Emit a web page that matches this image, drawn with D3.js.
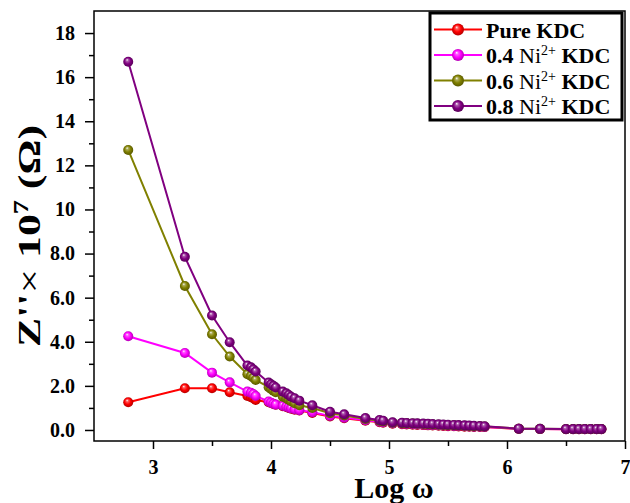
<!DOCTYPE html>
<html>
<head>
<meta charset="utf-8">
<script src="https://cdn.jsdelivr.net/npm/d3@7"></script>
<style>
  html, body { margin: 0; padding: 0; background: #fff; }
  svg { display: block; }
  text { font-family: "Liberation Serif", "Times New Roman", serif; }
</style>
</head>
<body>
<svg id="chart" width="630" height="503"></svg>
<script>
// Log of angular frequency, shared by all four samples
const logOmega = [
  2.79, 3.27, 3.50, 3.65, 3.80, 3.83, 3.85, 3.87, 3.98, 4.00, 4.02, 4.04,
  4.10, 4.13, 4.15, 4.17, 4.20, 4.24, 4.35, 4.50, 4.62, 4.80, 4.92, 4.95, 5.03,
  5.11, 5.15, 5.20, 5.24, 5.29, 5.33, 5.37, 5.42, 5.46, 5.50, 5.55, 5.59, 5.64,
  5.68, 5.72, 5.77, 5.81,
  6.10, 6.28, 6.50, 6.56, 6.61, 6.66, 6.71, 6.76, 6.80
];

// Z'' (x 10^7 ohm) for each sample
const pureKDC = [
  1.26, 1.89, 1.89, 1.71, 1.54, 1.48, 1.44, 1.36, 1.26, 1.22, 1.18, 1.14,
  1.08, 1.04, 1.00, 0.96, 0.92, 0.88, 0.77, 0.61, 0.53, 0.42, 0.35, 0.33, 0.28,
  0.26, 0.25, 0.24, 0.23, 0.22, 0.21, 0.20, 0.19, 0.18, 0.17, 0.17, 0.16, 0.15,
  0.15, 0.14, 0.14, 0.13,
  0.05, 0.04, 0.03, 0.03, 0.03, 0.03, 0.03, 0.03, 0.03
];
const ni04KDC = [
  4.25, 3.49, 2.60, 2.16, 1.74, 1.69, 1.63, 1.54, 1.29, 1.24, 1.19, 1.15,
  1.10, 1.06, 1.02, 0.98, 0.94, 0.90, 0.80, 0.64, 0.56, 0.44, 0.37, 0.35, 0.30,
  0.28, 0.27, 0.26, 0.25, 0.24, 0.23, 0.22, 0.21, 0.20, 0.19, 0.18, 0.18, 0.17,
  0.16, 0.15, 0.15, 0.14,
  0.05, 0.04, 0.03, 0.03, 0.03, 0.03, 0.03, 0.03, 0.03
];
const ni06KDC = [
  12.7, 6.53, 4.34, 3.33, 2.53, 2.45, 2.37, 2.27, 1.94, 1.86, 1.78, 1.71,
  1.51, 1.44, 1.37, 1.30, 1.21, 1.12, 1.00, 0.76, 0.66, 0.50, 0.42, 0.39, 0.33,
  0.31, 0.30, 0.29, 0.28, 0.27, 0.26, 0.25, 0.24, 0.23, 0.22, 0.21, 0.20, 0.19,
  0.18, 0.17, 0.17, 0.16,
  0.06, 0.05, 0.04, 0.04, 0.04, 0.04, 0.04, 0.04, 0.04
];
const ni08KDC = [
  16.7, 7.85, 5.19, 3.98, 2.92, 2.84, 2.75, 2.65, 2.15, 2.07, 2.00, 1.93,
  1.74, 1.66, 1.59, 1.51, 1.44, 1.33, 1.12, 0.83, 0.71, 0.54, 0.45, 0.42, 0.35,
  0.33, 0.32, 0.31, 0.30, 0.29, 0.28, 0.27, 0.26, 0.25, 0.24, 0.23, 0.22, 0.21,
  0.20, 0.19, 0.18, 0.17,
  0.06, 0.05, 0.04, 0.04, 0.04, 0.04, 0.04, 0.04, 0.04
];

const seriesNames = ["Pure KDC", "0.4 Ni2+ KDC", "0.6 Ni2+ KDC", "0.8 Ni2+ KDC"];
const seriesColors = ["#ff0000", "#ff00ff", "#808000", "#800080"];
const seriesValues = [pureKDC, ni04KDC, ni06KDC, ni08KDC];

const xTicks = [3, 4, 5, 6, 7];
const xTickLabels = ["3", "4", "5", "6", "7"];
const yTicks = [0, 2, 4, 6, 8, 10, 12, 14, 16, 18];
const yTickLabels = ["0.0", "2.0", "4.0", "6.0", "8.0", "10", "12", "14", "16", "18"];

const svg = d3.select("#chart");
const plotLeft = 94, plotRight = 625, plotTop = 11, plotBottom = 441;

const x = d3.scaleLinear().domain([2.5, 7]).range([plotLeft, plotRight]);
const y = d3.scaleLinear().domain([-0.5, 19]).range([plotBottom, plotTop]);

// shaded-ball gradients for the markers
const defs = svg.append("defs");
seriesColors.forEach((c, i) => {
  const g = defs.append("radialGradient")
    .attr("id", "ball" + i)
    .attr("cx", "50%").attr("cy", "50%").attr("r", "55%")
    .attr("fx", "38%").attr("fy", "30%");
  g.append("stop").attr("offset", "0%").attr("stop-color", "#ffffff");
  g.append("stop").attr("offset", "22%").attr("stop-color", d3.interpolateRgb(c, "#ffffff")(0.35));
  g.append("stop").attr("offset", "55%").attr("stop-color", c);
  g.append("stop").attr("offset", "100%").attr("stop-color", d3.interpolateRgb(c, "#000000")(0.35));
});

// axes
const yAxis = d3.axisLeft(y)
  .tickValues(yTicks)
  .tickFormat((d, i) => yTickLabels[i])
  .tickSize(9).tickSizeOuter(0).tickPadding(10);
const yMinor = d3.axisLeft(y)
  .tickValues(d3.range(1, 19, 2))
  .tickFormat("").tickSize(5).tickSizeOuter(0);
const xAxis = d3.axisBottom(x)
  .tickValues(xTicks)
  .tickFormat((d, i) => xTickLabels[i])
  .tickSize(8).tickSizeOuter(0).tickPadding(11);
const xMinor = d3.axisBottom(x)
  .tickValues([3.5, 4.5, 5.5, 6.5])
  .tickFormat("").tickSize(5).tickSizeOuter(0);

function styleAxis(g) {
  g.select(".domain").remove();
  g.selectAll("line").attr("stroke", "#000").attr("stroke-width", 1.5);
  g.selectAll("text")
    .attr("fill", "#000")
    .style("font-family", "'Liberation Serif', serif")
    .style("font-weight", "bold")
    .style("font-size", "20px");
}

svg.append("g").attr("transform", `translate(${plotLeft},0)`).call(yAxis).call(styleAxis);
svg.append("g").attr("transform", `translate(${plotLeft},0)`).call(yMinor).call(styleAxis);
svg.append("g").attr("transform", `translate(0,${plotBottom})`).call(xAxis).call(styleAxis);
svg.append("g").attr("transform", `translate(0,${plotBottom})`).call(xMinor).call(styleAxis);

// plot frame
svg.append("rect")
  .attr("x", plotLeft).attr("y", plotTop)
  .attr("width", plotRight - plotLeft).attr("height", plotBottom - plotTop)
  .attr("fill", "none").attr("stroke", "#000").attr("stroke-width", 1.5);

// series lines and markers
const line = d3.line().x(d => x(d[0])).y(d => y(d[1]));
seriesValues.forEach((vals, i) => {
  const pts = logOmega.map((lw, j) => [lw, vals[j]]);
  const g = svg.append("g");
  g.append("path")
    .attr("d", line(pts))
    .attr("fill", "none")
    .attr("stroke", seriesColors[i])
    .attr("stroke-width", 2);
  g.selectAll("circle").data(pts).join("circle")
    .attr("cx", d => x(d[0])).attr("cy", d => y(d[1]))
    .attr("r", 5)
    .attr("fill", `url(#ball${i})`);
});

// axis titles
svg.append("text")
  .attr("x", 394).attr("y", 498)
  .attr("text-anchor", "middle")
  .style("font-weight", "bold").style("font-size", "30px")
  .text("Log ω");

const yt = svg.append("text")
  .attr("transform", "translate(40,236) rotate(-90)")
  .attr("text-anchor", "middle")
  .attr("textLength", 222)
  .attr("lengthAdjust", "spacingAndGlyphs")
  .style("font-weight", "bold").style("font-size", "31px");
yt.append("tspan").text("Z''");
yt.append("tspan").style("font-weight", "normal").text("× ");
yt.append("tspan").text("10");
yt.append("tspan").attr("dy", -12).style("font-size", "20px").text("7");
yt.append("tspan").attr("dy", 12).text(" (Ω)");

// legend
const lg = svg.append("g");
lg.append("rect")
  .attr("x", 430).attr("y", 13).attr("width", 192).attr("height", 107)
  .attr("fill", "#fff").attr("stroke", "#000").attr("stroke-width", 3);
seriesNames.forEach((name, i) => {
  const cy = 29.5 + i * 25.5;
  lg.append("line")
    .attr("x1", 434).attr("x2", 482).attr("y1", cy).attr("y2", cy)
    .attr("stroke", seriesColors[i]).attr("stroke-width", 2);
  lg.append("circle")
    .attr("cx", 458).attr("cy", cy).attr("r", 6)
    .attr("fill", `url(#ball${i})`);
  const t = lg.append("text")
    .attr("x", 486).attr("y", cy + 8)
    .style("font-weight", "bold").style("font-size", "22px");
  const m = name.match(/^(.*) Ni2\+ (.*)$/);
  if (m) {
    t.append("tspan").text(m[1] + " ");
    t.append("tspan").style("font-weight", "normal").text("Ni");
    t.append("tspan").attr("dy", -8).style("font-weight", "normal").style("font-size", "14px").text("2+");
    t.append("tspan").attr("dy", 8).text(" " + m[2]);
  } else {
    t.text(name);
  }
});
</script>
</body>
</html>
